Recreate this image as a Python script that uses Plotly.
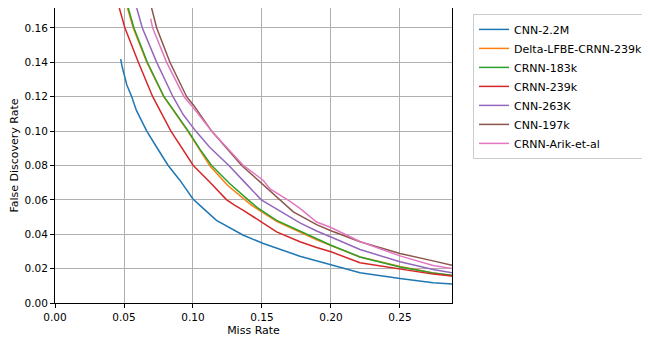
import plotly.graph_objects as go

names = ["CNN-2.2M", "Delta-LFBE-CRNN-239k", "CRNN-183k", "CRNN-239k",
         "CNN-263K", "CNN-197k", "CRNN-Arik-et-al"]
colors = ["#1f77b4", "#ff7f0e", "#2ca02c", "#d62728", "#9467bd", "#8c564b", "#e377c2"]

cnn22_x = [0.0476, 0.0485, 0.052, 0.0556, 0.059, 0.0665, 0.0737, 0.082, 0.0906, 0.1, 0.105, 0.117,
           0.1365, 0.151, 0.1775, 0.1896, 0.2, 0.221, 0.25, 0.274, 0.2877]
cnn22_y = [0.1418, 0.138, 0.127, 0.12, 0.112, 0.1, 0.0906, 0.08, 0.0713, 0.0605, 0.0568, 0.0481,
           0.0394, 0.0346, 0.0272, 0.0245, 0.022, 0.0176, 0.0143, 0.0118, 0.011]

delta_x = [0.0525, 0.0567, 0.0665, 0.0788, 0.0962, 0.1045, 0.1125, 0.125, 0.1377, 0.1425, 0.1606,
           0.1775, 0.1896, 0.2, 0.221, 0.25, 0.274, 0.2877]
delta_y = [0.1716, 0.16, 0.14, 0.12, 0.1, 0.0895, 0.0795, 0.0685, 0.06, 0.0568, 0.0475, 0.0412,
           0.0368, 0.0334, 0.0268, 0.0212, 0.0174, 0.0158]

crnn183_x = [0.0531, 0.0572, 0.0669, 0.079, 0.0966, 0.105, 0.1135, 0.1265, 0.14, 0.1466, 0.1606,
             0.1775, 0.1896, 0.2, 0.221, 0.25, 0.274, 0.2877]
crnn183_y = [0.1716, 0.16, 0.14, 0.12, 0.1, 0.0895, 0.08, 0.0695, 0.06, 0.0555, 0.0481, 0.0419,
             0.0371, 0.0336, 0.0268, 0.021, 0.0175, 0.0162]

crnn239_x = [0.0466, 0.0507, 0.0604, 0.0708, 0.084, 0.1002, 0.1123, 0.1244, 0.1304, 0.1365, 0.1606,
             0.1775, 0.1896, 0.2, 0.221, 0.25, 0.274, 0.2877]
crnn239_y = [0.1716, 0.16, 0.14, 0.12, 0.1, 0.08, 0.0703, 0.06, 0.0568, 0.0539, 0.0414, 0.0356,
             0.0323, 0.0298, 0.0234, 0.0197, 0.0168, 0.0157]

cnn263_x = [0.0592, 0.0633, 0.0737, 0.0855, 0.093, 0.102, 0.1123, 0.126, 0.1389, 0.1495, 0.1775,
            0.1896, 0.2, 0.221, 0.25, 0.274, 0.2877]
cnn263_y = [0.1716, 0.16, 0.14, 0.12, 0.1095, 0.1, 0.0905, 0.08, 0.069, 0.06, 0.0466, 0.0419,
            0.0384, 0.0311, 0.024, 0.0195, 0.0176]

cnn197_x = [0.07, 0.0737, 0.0833, 0.0954, 0.1007, 0.1135, 0.1353, 0.15, 0.163, 0.1727, 0.1896,
            0.2, 0.221, 0.25, 0.274, 0.2877]
cnn197_y = [0.1716, 0.16, 0.14, 0.12, 0.1148, 0.1, 0.08, 0.0694, 0.06, 0.053, 0.0456, 0.042,
            0.0356, 0.0288, 0.0245, 0.022]

arik_x = [0.0693, 0.0708, 0.0809, 0.0935, 0.099, 0.1135, 0.1365, 0.151, 0.1558, 0.169, 0.1775,
          0.1896, 0.2, 0.221, 0.25, 0.274, 0.2877]
arik_y = [0.1654, 0.16, 0.14, 0.12, 0.1148, 0.1, 0.08, 0.0713, 0.0664, 0.0598, 0.055, 0.0471,
          0.0439, 0.0358, 0.0274, 0.0218, 0.0201]

series = [(cnn22_x, cnn22_y), (delta_x, delta_y), (crnn183_x, crnn183_y), (crnn239_x, crnn239_y),
          (cnn263_x, cnn263_y), (cnn197_x, cnn197_y), (arik_x, arik_y)]

x_ticks = [0.0, 0.05, 0.10, 0.15, 0.20, 0.25]
y_ticks = [0.0, 0.02, 0.04, 0.06, 0.08, 0.10, 0.12, 0.14, 0.16]

fig = go.Figure()
for name, color, (xs, ys) in zip(names, colors, series):
    fig.add_trace(go.Scatter(x=xs, y=ys, mode="lines", name=name,
                             line=dict(color=color, width=1.5)))

font = "DejaVu Sans"
# page body adds an 8px offset; figure is sized to compensate
fig.update_layout(
    width=642, height=335,
    margin=dict(l=47, r=198, t=0, b=40, autoexpand=False),
    paper_bgcolor="white", plot_bgcolor="white",
    font=dict(family=font, size=11, color="black"),
    showlegend=True,
    legend=dict(x=1.053, y=0.98, xanchor="left", yanchor="top",
                bordercolor="#cccccc", borderwidth=1, bgcolor="white",
                font=dict(family=font, size=11), tracegroupgap=0, itemwidth=30),
    xaxis=dict(range=[0, 0.2877], tickvals=x_ticks, tickformat=".2f",
               showgrid=True, gridcolor="#b0b0b0", gridwidth=1,
               showline=True, linecolor="black", linewidth=1, mirror=True,
               ticks="outside", ticklen=4, tickcolor="black",
               tickfont=dict(family=font, size=10.5),
               title=dict(text="Miss Rate", font=dict(family=font, size=11), standoff=4),
               zeroline=False),
    yaxis=dict(range=[0, 0.1716], tickvals=y_ticks, tickformat=".2f",
               showgrid=True, gridcolor="#b0b0b0", gridwidth=1,
               showline=True, linecolor="black", linewidth=1, mirror=True,
               ticks="outside", ticklen=4, tickcolor="black",
               tickfont=dict(family=font, size=10.5),
               title=dict(text="False Discovery Rate", font=dict(family=font, size=11), standoff=6),
               zeroline=False),
)

fig.write_html("out.html")
